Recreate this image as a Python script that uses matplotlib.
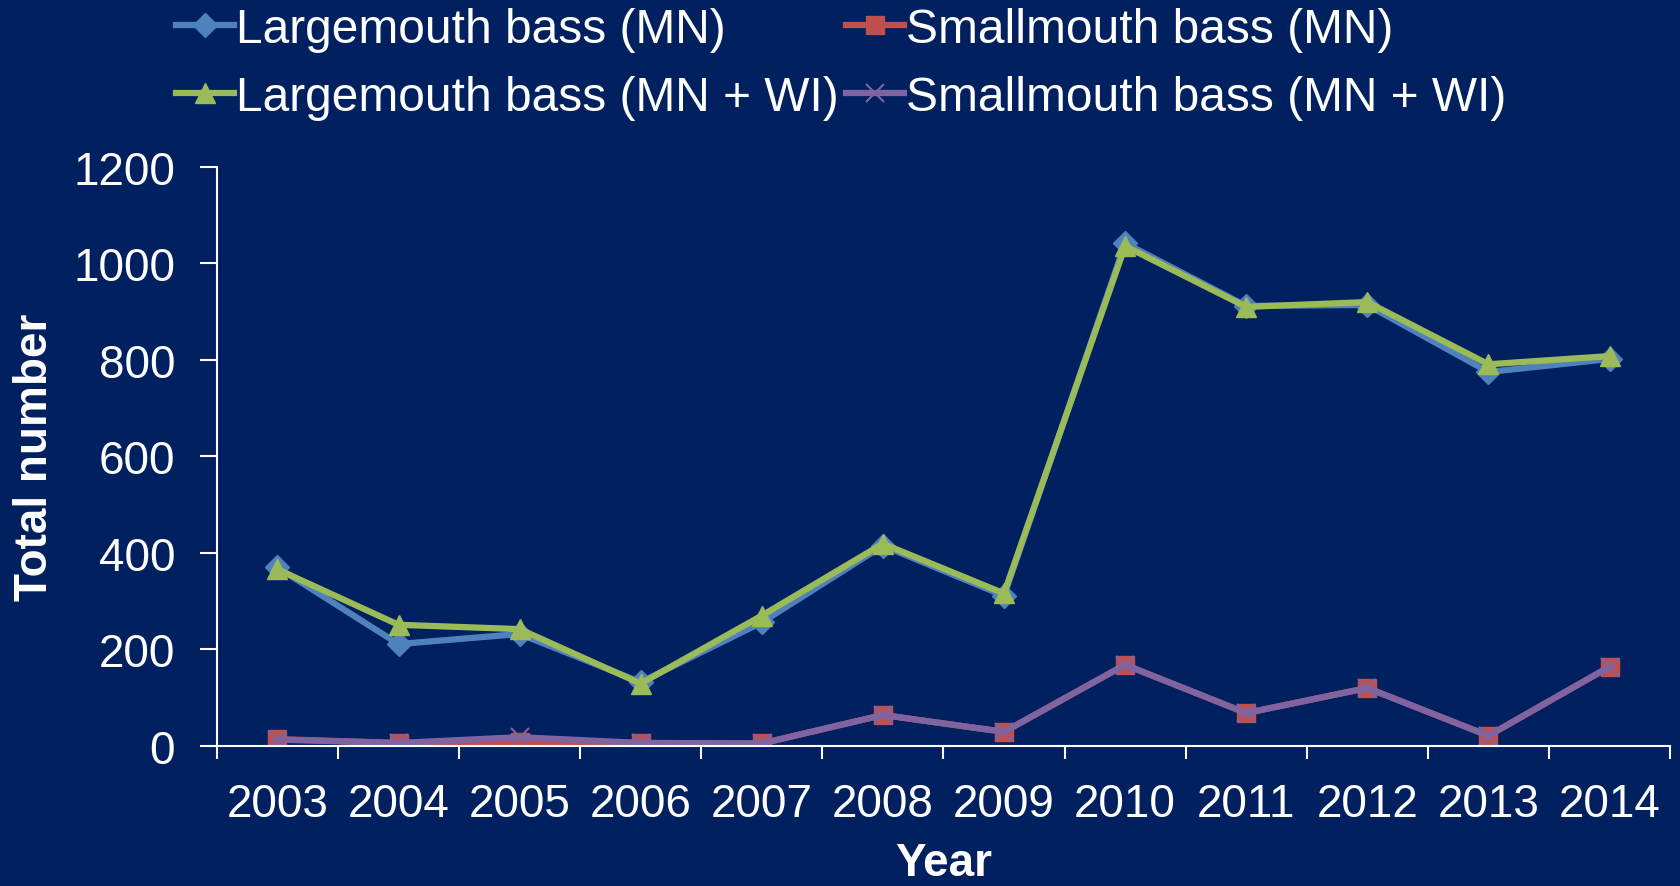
import numpy as np
import matplotlib.pyplot as plt

# datos
years = ['2003', '2004', '2005', '2006', '2007', '2008', '2009', '2010', '2011', '2012', '2013', '2014']
lmb_mn = [370, 211, 232, 132, 256, 415, 311, 1042, 912, 914, 775, 802]
smb_mn = [14, 6, 8, 6, 5, 64, 29, 168, 68, 120, 21, 164]
lmb_mnwi = [366, 251, 242, 129, 270, 419, 316, 1036, 910, 920, 791, 808]
smb_mnwi = [13, 6, 18, 6, 5, 64, 29, 168, 68, 120, 21, 164]

fondo = '#002060'
plt.rcParams['font.family'] = ['Liberation Sans', 'DejaVu Sans']

fig = plt.figure(figsize=(16.81, 8.87), dpi=100, facecolor=fondo)
ax = fig.add_axes([0.129, 0.158, 0.8645, 0.6526], facecolor=fondo)

x = np.arange(len(years))
l1, = ax.plot(x, lmb_mn, color='#4F81BD', lw=4.5, marker='D', ms=12, label='Largemouth bass (MN)')
l2, = ax.plot(x, smb_mn, color='#C0504D', lw=4.5, marker='s', ms=13, label='Smallmouth bass (MN)')
l3, = ax.plot(x, lmb_mnwi, color='#9BBB59', lw=4.5, marker='^', ms=14, label='Largemouth bass (MN + WI)')
l4, = ax.plot(x, smb_mnwi, color='#8064A2', lw=4.5, marker='x', ms=13, mew=1.5, label='Smallmouth bass (MN + WI)')

ax.set_xlim(-0.5, 11.5)
ax.set_ylim(0, 1200)
ax.set_yticks(range(0, 1201, 200))
ax.set_xticks(x)
ax.set_xticklabels(years)
ax.set_xticks(np.arange(-0.5, 12, 1), minor=True)

for s in ['top', 'right']:
    ax.spines[s].set_visible(False)
for s in ['left', 'bottom']:
    ax.spines[s].set_color('white')
    ax.spines[s].set_linewidth(1.5)

ax.tick_params(axis='y', colors='white', labelsize=33, length=12, width=1.5, pad=18)
ax.tick_params(axis='x', which='major', colors='white', labelsize=33, length=0, pad=26)
ax.tick_params(axis='x', which='minor', colors='white', length=9, width=1.5)

ax.set_ylabel('Total number', color='white', fontsize=33, fontweight='bold', labelpad=12)
ax.set_xlabel('Year', color='white', fontsize=33, fontweight='bold', labelpad=11)

fig.legend(handles=[l1, l3, l2, l4], ncol=2, loc='upper left', bbox_to_anchor=(0.0935, 1.013),
           frameon=False, fontsize=34.5, labelcolor='white', handlelength=1.2,
           handletextpad=0.05, columnspacing=0.15, labelspacing=0.48, borderaxespad=0)

fig.savefig('out.png', dpi=100, facecolor=fondo)
